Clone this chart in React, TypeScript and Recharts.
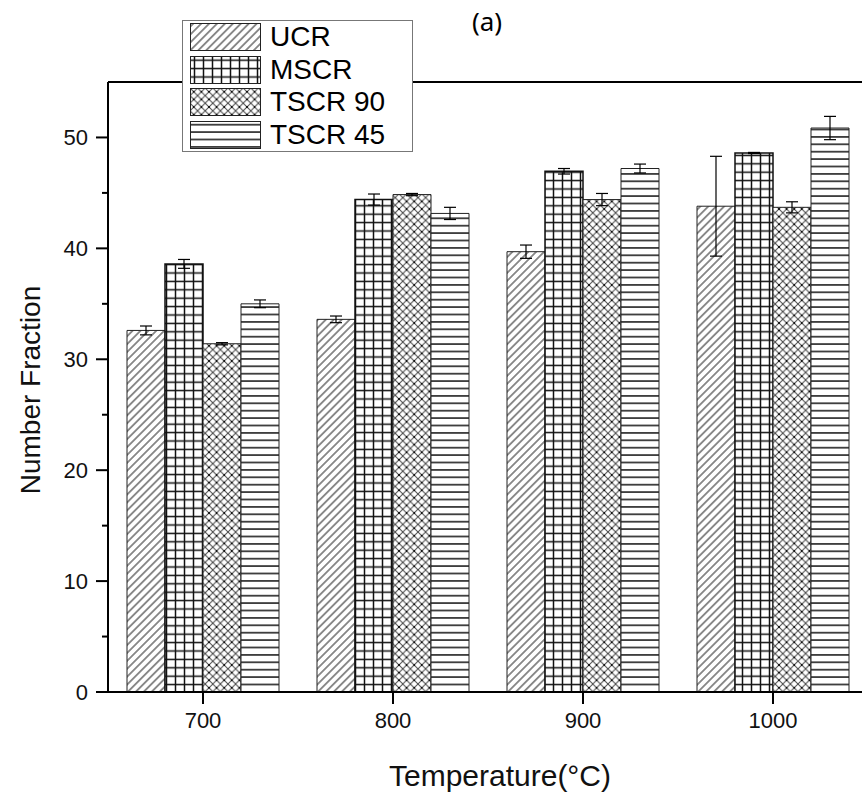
import React from 'react';
import { BarChart, Bar, XAxis, YAxis, ErrorBar, Legend, Label } from 'recharts';

const temperatures = ['700', '800', '900', '1000'];
const ucrValues = [32.6, 33.6, 39.7, 43.8];
const ucrErrors = [0.4, 0.3, 0.6, 4.5];
const mscrValues = [38.6, 44.4, 46.95, 48.6];
const mscrErrors = [0.4, 0.5, 0.25, 0.05];
const tscr90Values = [31.4, 44.85, 44.4, 43.7];
const tscr90Errors = [0.1, 0.1, 0.55, 0.5];
const tscr45Values = [35.0, 43.15, 47.2, 50.85];
const tscr45Errors = [0.35, 0.55, 0.4, 1.05];
const seriesNames = ['UCR', 'MSCR', 'TSCR 90', 'TSCR 45'];
const leftTicks = [0, 5, 10, 15, 20, 25, 30, 35, 40, 45, 50];
const rightTicks = [0, 10, 20, 30, 40, 50];
const yDomain = [0, 55];

const data = temperatures.map((t, i) => ({
  temp: t,
  ucr: ucrValues[i],
  ucrErr: ucrErrors[i],
  mscr: mscrValues[i],
  mscrErr: mscrErrors[i],
  tscr90: tscr90Values[i],
  tscr90Err: tscr90Errors[i],
  tscr45: tscr45Values[i],
  tscr45Err: tscr45Errors[i],
}));

const patternFor: Record<string, string> = {
  UCR: 'url(#pUCR)',
  MSCR: 'url(#pMSCR)',
  'TSCR 90': 'url(#pT90)',
  'TSCR 45': 'url(#pT45)',
};

const FONT = '"Liberation Sans", Arial, sans-serif';

const Patterns = () => (
  <svg width={0} height={0} style={{ position: 'absolute' }}>
    <defs>
      <pattern id="pUCR" patternUnits="userSpaceOnUse" width={5.6} height={5.6} patternTransform="rotate(45)">
        <rect width={5.6} height={5.6} fill="#fff" />
        <line x1={2.8} y1={0} x2={2.8} y2={5.6} stroke="#333" strokeWidth={1.1} />
      </pattern>
      <pattern id="pMSCR" patternUnits="userSpaceOnUse" width={9} height={8.4}>
        <rect width={9} height={8.4} fill="#fff" />
        <line x1={4.5} y1={0} x2={4.5} y2={8.4} stroke="#111" strokeWidth={1.5} />
        <line x1={0} y1={4.2} x2={9} y2={4.2} stroke="#111" strokeWidth={1.5} />
      </pattern>
      <pattern id="pT90" patternUnits="userSpaceOnUse" width={7.6} height={7.6}>
        <rect width={7.6} height={7.6} fill="#fff" />
        <path d="M0,0 L7.6,7.6 M7.6,0 L0,7.6" stroke="#444" strokeWidth={1} />
        <circle cx={3.8} cy={3.8} r={1} fill="#000" />
      </pattern>
      <pattern id="pT45" patternUnits="userSpaceOnUse" width={8} height={7.4}>
        <rect width={8} height={7.4} fill="#fff" />
        <line x1={0} y1={3.7} x2={8} y2={3.7} stroke="#111" strokeWidth={1.5} />
      </pattern>
    </defs>
  </svg>
);

const LeftTick = (props: any) => {
  const { x, y, payload } = props;
  const v = payload.value;
  const major = v % 10 === 0;
  const len = major ? 12 : 6;
  return (
    <g>
      <line x1={x - len} x2={x} y1={y} y2={y} stroke="#000" strokeWidth={2} />
      {major && (
        <text x={x - 20} y={y} dy="0.36em" textAnchor="end" fontSize={22} fontFamily={FONT} fill="#111">
          {v}
        </text>
      )}
    </g>
  );
};

const EmptyTick = () => <g />;

const LegendBox = (props: any) => {
  const payload = [...(props.payload || [])].sort(
    (a: any, b: any) => seriesNames.indexOf(a.value) - seriesNames.indexOf(b.value)
  );
  return (
    <div
      style={{
        width: 229,
        height: 130,
        border: '1px solid #777',
        background: '#fff',
        boxSizing: 'content-box',
        fontFamily: FONT,
      }}
    >
      {payload.map((entry: any) => (
        <div key={entry.value} style={{ height: 32.5, display: 'flex', alignItems: 'center' }}>
          <svg width={71} height={28} style={{ marginLeft: 7, display: 'block' }}>
            <rect x={0.5} y={0.5} width={70} height={27} fill={patternFor[entry.value]} stroke="#222" strokeWidth={1} />
          </svg>
          <span style={{ marginLeft: 9, fontSize: 28, color: '#000', lineHeight: '28px' }}>{entry.value}</span>
        </div>
      ))}
    </div>
  );
};

export default function App() {
  return (
    <div style={{ position: 'fixed', left: 0, top: 0, width: 862, height: 800, overflow: 'hidden', background: '#fff' }}>
      <Patterns />
      <BarChart
        width={900}
        height={800}
        data={data}
        margin={{ top: 81, right: 32, left: 48, bottom: 58 }}
        barCategoryGap="10%"
        barGap={0}
      >
        <XAxis
          dataKey="temp"
          tickSize={12}
          tickMargin={8}
          tickLine={{ stroke: '#000', strokeWidth: 2 }}
          axisLine={{ stroke: '#000', strokeWidth: 2 }}
          tick={{ fontSize: 22, fontFamily: FONT, fill: '#111' }}
          height={50}
        >
          <Label
            content={(p: any) => {
              const vb = p.viewBox || { x: 108, width: 759 };
              return (
                <text x={vb.x + vb.width / 2 + 12} y={786} textAnchor="middle" fontSize={30} fontFamily={FONT} fill="#111">
                  Temperature(°C)
                </text>
              );
            }}
          />
        </XAxis>
        <XAxis
          xAxisId="top"
          dataKey="temp"
          orientation="top"
          height={1}
          tick={EmptyTick}
          tickLine={false}
          axisLine={{ stroke: '#000', strokeWidth: 2 }}
        >
          <Label
            content={() => (
              <text x={487} y={31} textAnchor="middle" fontSize={26} fontFamily='"Noto Sans", sans-serif' fill="#000">
                (a)
              </text>
            )}
          />
        </XAxis>
        <YAxis
          domain={yDomain}
          ticks={leftTicks}
          interval={0}
          width={60}
          tickSize={0}
          tickMargin={0}
          tickLine={false}
          tick={LeftTick}
          axisLine={{ stroke: '#000', strokeWidth: 2 }}
        >
          <Label
            content={() => (
              <text
                x={30}
                y={390}
                transform="rotate(-90 30 390)"
                textAnchor="middle"
                dy="0.36em"
                fontSize={28}
                fontFamily={FONT}
                fill="#111"
              >
                Number Fraction
              </text>
            )}
          />
        </YAxis>
        <YAxis
          yAxisId="right"
          orientation="right"
          domain={yDomain}
          ticks={rightTicks}
          interval={0}
          width={1}
          mirror
          tickSize={12}
          tick={EmptyTick}
          tickLine={{ stroke: '#000', strokeWidth: 2 }}
          axisLine={{ stroke: '#000', strokeWidth: 2 }}
        />
        <Legend
          layout="vertical"
          align="center"
          verticalAlign="middle"
          wrapperStyle={{ left: 182, top: 20, width: 231, height: 132 }}
          content={LegendBox}
        />
        <Bar dataKey="ucr" name={seriesNames[0]} fill="url(#pUCR)" stroke="#222" strokeWidth={1} isAnimationActive={false}>
          <ErrorBar dataKey="ucrErr" width={6} stroke="#000" strokeWidth={1.2} direction="y" />
        </Bar>
        <Bar dataKey="mscr" name={seriesNames[1]} fill="url(#pMSCR)" stroke="#111" strokeWidth={1.5} isAnimationActive={false}>
          <ErrorBar dataKey="mscrErr" width={6} stroke="#000" strokeWidth={1.2} direction="y" />
        </Bar>
        <Bar dataKey="tscr90" name={seriesNames[2]} fill="url(#pT90)" stroke="#222" strokeWidth={1} isAnimationActive={false}>
          <ErrorBar dataKey="tscr90Err" width={6} stroke="#000" strokeWidth={1.2} direction="y" />
        </Bar>
        <Bar dataKey="tscr45" name={seriesNames[3]} fill="url(#pT45)" stroke="#222" strokeWidth={1} isAnimationActive={false}>
          <ErrorBar dataKey="tscr45Err" width={6} stroke="#000" strokeWidth={1.2} direction="y" />
        </Bar>
      </BarChart>
    </div>
  );
}
